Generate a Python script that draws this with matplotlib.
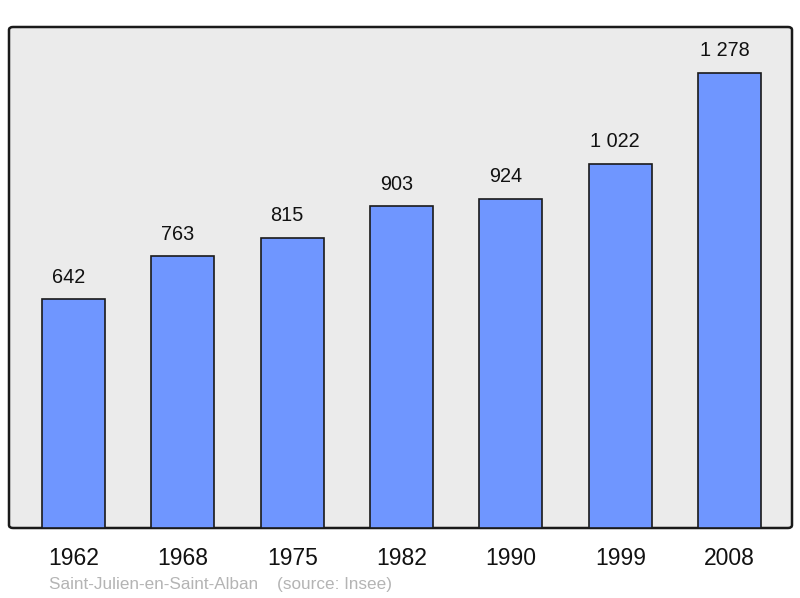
import matplotlib
matplotlib.use("Agg")
import matplotlib.pyplot as plt
from matplotlib.patches import FancyBboxPatch

plt.rcParams['font.family'] = ['Liberation Sans', 'DejaVu Sans']

years = ['1962', '1968', '1975', '1982', '1990', '1999', '2008']
population = [642, 763, 815, 903, 924, 1022, 1278]
labels = ['642', '763', '815', '903', '924', '1 022', '1 278']

W, H = 800, 598
fig = plt.figure(figsize=(W / 100, H / 100), dpi=100)

# axes box in pixels: left 9, right 792, top 27, bottom 528
ax = fig.add_axes([9 / W, (H - 528) / H, (792 - 9) / W, (528 - 27) / H])
ax.set_facecolor('none')

frame = FancyBboxPatch((9 / W, (H - 528) / H), (792 - 9) / W, (528 - 27) / H,
                       boxstyle="round,pad=0,rounding_size=0.005",
                       transform=fig.transFigure, facecolor='#ebebeb',
                       edgecolor='#1a1a1a', linewidth=1.8, zorder=0,
                       clip_on=False)
ax.add_artist(frame)

x = range(len(years))
ax.bar(x, population, width=0.576, color='#6f96ff', edgecolor='#1a1a1a',
       linewidth=1.2, zorder=2)

# value labels sit a little left of the bar centre
for i, (v, lab) in enumerate(zip(population, labels)):
    ax.annotate(lab, (i, v), xytext=(-3.6, 16), textcoords='offset points',
                ha='center', va='center', fontsize=14.3, color='#111111')

ax.set_xlim(-0.59, 6.57)
ax.set_ylim(0, 1407)
ax.set_xticks(list(x))
ax.set_xticklabels(years, fontsize=16.5, color='#111111')
ax.tick_params(axis='x', length=0, pad=14)
ax.set_yticks([])
for s in ax.spines.values():
    s.set_visible(False)

fig.text(49 / W, 1 - 584 / H, 'Saint-Julien-en-Saint-Alban    (source: Insee)',
         fontsize=12.3, color='#b4b4b4', ha='left', va='center')

fig.savefig('out.png', dpi=100)
